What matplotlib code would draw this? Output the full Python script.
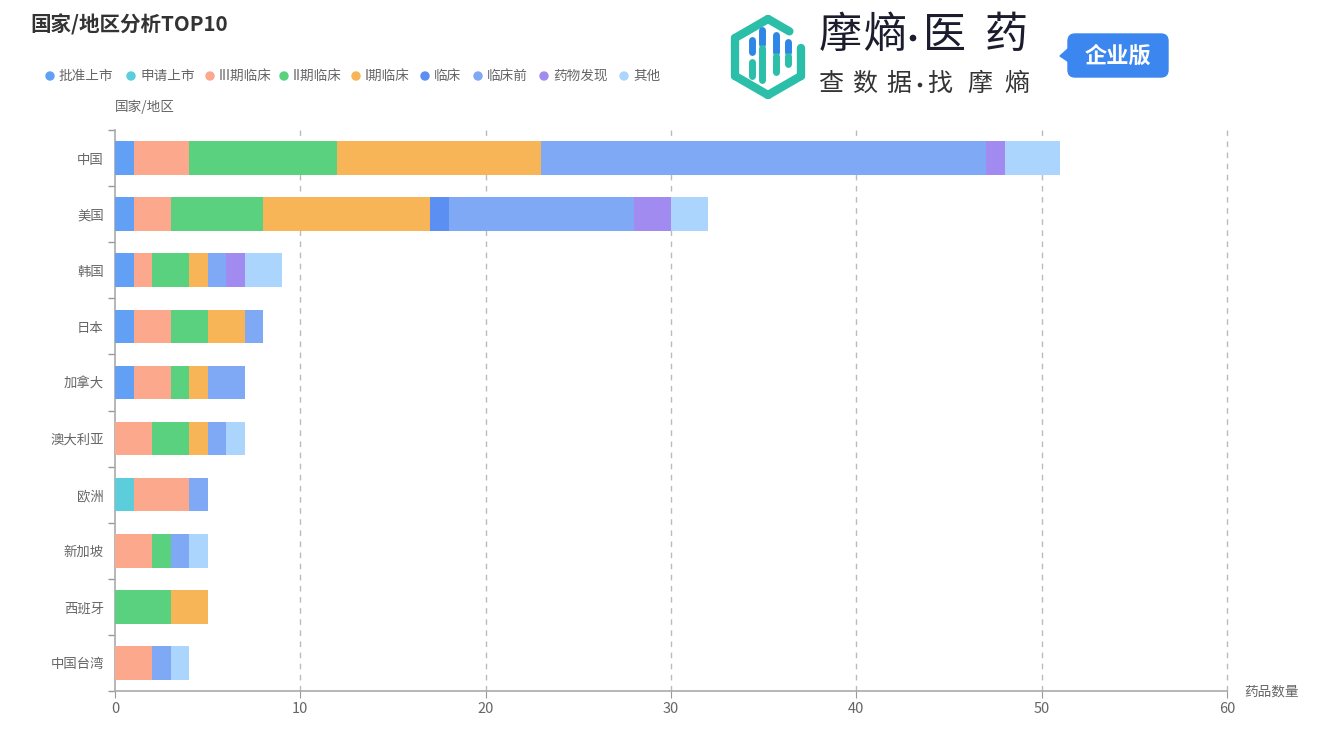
import numpy as np
import matplotlib
matplotlib.use('Agg')
import matplotlib.pyplot as plt
from matplotlib.patches import FancyBboxPatch, Polygon, Circle
from matplotlib.ticker import FixedLocator

plt.rcParams['font.family'] = ['Noto Sans CJK SC', 'DejaVu Sans']

# 数据
regions = ['中国', '美国', '韩国', '日本', '加拿大', '澳大利亚', '欧洲', '新加坡', '西班牙', '中国台湾']
stages = ['批准上市', '申请上市', 'III期临床', 'II期临床', 'I期临床', '临床', '临床前', '药物发现', '其他']
colors = ['#62a0f6', '#5ccedb', '#fca88c', '#5ad17f', '#f7b557', '#5b8ff2', '#80a9f5', '#a28bf0', '#abd5fd']

approved = [1, 1, 1, 1, 1, 0, 0, 0, 0, 0]
filing = [0, 0, 0, 0, 0, 0, 1, 0, 0, 0]
phase3 = [3, 2, 1, 2, 2, 2, 3, 2, 0, 2]
phase2 = [8, 5, 2, 2, 1, 2, 0, 1, 3, 0]
phase1 = [11, 9, 1, 2, 1, 1, 0, 0, 2, 0]
clinical = [0, 1, 0, 0, 0, 0, 0, 0, 0, 0]
preclinical = [24, 10, 1, 1, 2, 1, 1, 1, 0, 1]
discovery = [1, 2, 1, 0, 0, 0, 0, 0, 0, 0]
other = [3, 2, 2, 0, 0, 1, 0, 1, 0, 1]

series = [approved, filing, phase3, phase2, phase1, clinical, preclinical, discovery, other]
x_ticks = [0, 10, 20, 30, 40, 50, 60]

W, H = 1328, 751
fig = plt.figure(figsize=(W / 100, H / 100), dpi=100)

# 主图
ax = fig.add_axes([115 / W, 60 / H, 1112 / W, 561 / H])
y = np.arange(len(regions))
left = np.zeros(len(regions))
for vals, col, name in zip(series, colors, stages):
    vals = np.array(vals, dtype=float)
    ax.barh(y, vals, left=left, height=0.6, color=col, label=name, zorder=3)
    left += vals

ax.set_xlim(0, 60)
ax.set_ylim(len(regions) - 0.5, -0.5)
ax.xaxis.set_major_locator(FixedLocator(x_ticks))
ax.set_yticks(y)
ax.set_yticklabels(regions)
ax.yaxis.set_minor_locator(FixedLocator(np.arange(-0.5, len(regions), 1.0)))
ax.tick_params(axis='y', which='major', length=0, pad=8, labelsize=9.6, labelcolor='#666666')
ax.tick_params(axis='y', which='minor', length=5, color='#999999', width=1)
ax.tick_params(axis='x', which='major', length=5, color='#999999', pad=3, labelsize=10.5, labelcolor='#666666')

for xv in x_ticks[1:]:
    ax.axvline(xv, color='#bbbbbb', linestyle=(0, (4, 4)), linewidth=1, zorder=1, clip_on=False)

for s in ['top', 'right']:
    ax.spines[s].set_visible(False)
for s in ['left', 'bottom']:
    ax.spines[s].set_color('#aaaaaa')
    ax.spines[s].set_linewidth(1.2)

# 覆盖层（像素坐标）
ov = fig.add_axes([0, 0, 1, 1], zorder=5)
ov.set_xlim(0, W)
ov.set_ylim(H, 0)
ov.axis('off')
ov.patch.set_alpha(0)

ov.text(30, 25, '国家/地区分析TOP10', fontsize=14.8, fontweight='bold', color='#333333', va='center', ha='left')
ov.text(115, 107, '国家/地区', fontsize=9.8, color='#666666', va='center', ha='left')
ov.text(1244, 691, '药品数量', fontsize=9.8, color='#666666', va='center', ha='left')

# 图例
legend_x = [50, 131, 210, 284, 356, 425, 478, 544, 624]
for lx, lab, col in zip(legend_x, stages, colors):
    ov.add_patch(Circle((lx, 76), 4, color=col))
    ov.text(lx + 9, 76, lab, fontsize=9.8, color='#666666', va='center', ha='left')

# Logo
teal = '#2bbfaa'
cx, cy, r = 768, 57, 38
ang = np.deg2rad(np.arange(90, 450, 60))
hx = cx + r * np.cos(ang)
hy = cy - r * np.sin(ang)
segs = [(0, 1), (1, 2), (2, 3), (3, 4), (4, 5), (5, 0)]
for i, j in segs:
    x0, y0, x1, y1 = hx[i], hy[i], hx[j], hy[j]
    if (i, j) == (5, 0):
        x0, y0 = x0 + 0.35 * (x1 - x0), y0 + 0.35 * (y1 - y0)
    if (i, j) == (4, 5):
        x1, y1 = x0 + 0.75 * (x1 - x0), y0 + 0.75 * (y1 - y0)
    ov.plot([x0, x1], [y0, y1], color=teal, linewidth=6, solid_capstyle='round')
bars_icon = [(752, 40, 52, 62, 76), (762, 30, 44, 48, 80), (776, 35, 52, 56, 72), (788, 42, 52, 56, 64)]
for bx, t0, t1, b0, b1 in bars_icon:
    ov.plot([bx, bx], [t0, t1], color='#2f86e6', linewidth=5, solid_capstyle='round')
    ov.plot([bx, bx], [b0, b1], color=teal, linewidth=5, solid_capstyle='round')

for ch, px in zip('摩熵·医药', [840, 885, 913, 944, 1006]):
    if ch == '·':
        ov.add_patch(Circle((px, 38), 2.6, color='#1c1c2e'))
    else:
        ov.text(px, 36, ch, fontsize=31, fontweight='medium', color='#1c1c2e', va='center', ha='center')
for ch, px in zip('查数据·找摩熵', [831, 865, 899, 920, 940, 980, 1017]):
    if ch == '·':
        ov.add_patch(Circle((px, 85), 1.6, color='#333333'))
    else:
        ov.text(px, 84, ch, fontsize=18, fontweight='light', color='#333333', va='center', ha='center')

ov.add_patch(FancyBboxPatch((1068, 34), 100, 43, boxstyle='round,pad=0,rounding_size=7',
                            color='#3b86ef'))
ov.add_patch(Polygon([[1069, 48], [1060, 56], [1069, 62]], color='#3b86ef'))
ov.text(1118, 56, '企业版', fontsize=16, fontweight='bold', color='white', va='center', ha='center')

fig.savefig('out.png', dpi=100)
